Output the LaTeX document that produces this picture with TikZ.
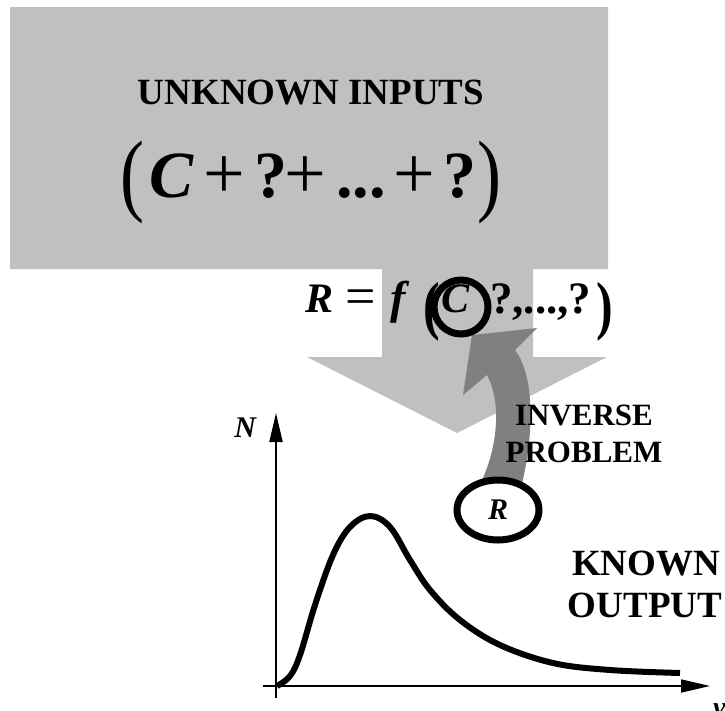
\documentclass[tikz,border=0pt]{standalone}
\usepackage{fontspec}
\setmainfont{Liberation Serif}
\usetikzlibrary{arrows.meta,shapes.geometric}
\definecolor{lightg}{HTML}{C0C0C0}
\definecolor{darkg}{HTML}{808080}
\tikzset{
  txt/.style={inner sep=0pt, outer sep=0pt},
  bsize/.style={font=\bfseries\fontsize{#1}{#1}\selectfont},
  bisize/.style={font=\bfseries\itshape\fontsize{#1}{#1}\selectfont},
  rsize/.style={font=\fontsize{#1}{#1}\selectfont},
  axisline/.style={line width=1.8pt, -{Triangle[length=29pt,width=13pt]}},
  curveline/.style={line width=6pt, line join=round},
  ring/.style={draw, line width=7pt},
}
\begin{document}
\begin{tikzpicture}[x=1pt,y=-1pt]
\useasboundingbox (0,0) rectangle (725,710);
% big light grey arrow
\fill[lightg] (10,7) -- (608,7) -- (608,269) -- (533,269) -- (533,357) -- (607,357)
  -- (457,433) -- (307,357) -- (382,357) -- (382,269) -- (10,269) -- cycle;
% title
\node[txt, bsize=37, anchor=base] (title) at (311,104) {UNKNOWN INPUTS};
% formula 1
\node[txt, rsize=72, anchor=base west] (p1l) at (120,204) {\scalebox{1}[1.27]{(}};
\node[txt, bisize=66, anchor=base west] (c1) at (149,197) {C};
\node[txt, rsize=74, anchor=base west] (pl1) at (203,198) {+};
\node[txt, bsize=66, anchor=base west] (q1) at (254,197) {?};
\node[txt, rsize=74, anchor=base west] (pl2) at (284,198) {+};
\node[txt, bsize=66, anchor=base west] (dots1) at (336,197) {...};
\node[txt, rsize=74, anchor=base west] (pl3) at (393,198) {+};
\node[txt, bsize=66, anchor=base west] (q2) at (443,197) {?};
\node[txt, rsize=72, anchor=base east] (p1r) at (501,204) {\scalebox{1}[1.27]{)}};
% dark inverse arrow
\fill[darkg] (472,335) -- (537,328) -- (515,350) .. controls (532,372) and (537,425) .. (520,492)
  -- (476,492) .. controls (497,455) and (503,405) .. (487,375) -- (463,395) -- cycle;
% formula 2
\node[txt, bisize=42, anchor=base west] (r2) at (305,312) {R};
\node[txt, rsize=54, anchor=base west] (eq2) at (345,314) {=};
\node[txt, bisize=46, anchor=base west] (f2) at (390,313) {f};
\node[txt, bsize=50, anchor=base west] (p2l) at (423,327) {\scalebox{1}[1.3]{(}};
\node[txt, bisize=42, anchor=base west] (c2) at (441,312) {C};
\node[ring, circle, minimum size=54pt] (cring) at (461,307) {};
\node[txt, bsize=45, anchor=base west] (rest2) at (490,313) {?,...,?};
\node[txt, bsize=50, anchor=base east] (p2r) at (613,327) {\scalebox{1}[1.3]{)}};
% labels
\node[txt, bsize=31, anchor=base] (inv) at (584,425) {INVERSE};
\node[txt, bsize=31, anchor=base] (prob) at (584,462) {PROBLEM};
\node[txt, bsize=37, anchor=base] (known) at (646,575) {KNOWN};
\node[txt, bsize=37, anchor=base] (output) at (645,617) {OUTPUT};
% ellipse R
\node[ring, ellipse, fill=white, minimum width=82pt, minimum height=60pt, inner sep=0pt,
  bisize=30] (rell) at (498,510) {R};
% axes
\coordinate (ybot) at (276,698);
\coordinate (ytop) at (276,413);
\coordinate (xleft) at (263,686);
\coordinate (xright) at (710,686);
\draw[axisline] (ybot) -- (ytop);
\draw[axisline] (xleft) -- (xright);
\node[txt, bisize=30, anchor=base east] (nlab) at (256,437) {N};
\node[txt, bisize=28, anchor=base west] (vlab) at (713,716) {v};
% distribution curve
\draw[curveline] plot[smooth, tension=0.6] coordinates {(277,686) (290,676) (300,655) (315,605) (333,555) (350,527) (370,516) (390,527) (410,560) (430,590) (460,620) (500,645) (553,663) (610,670) (680,673)};
\end{tikzpicture}
\end{document}
